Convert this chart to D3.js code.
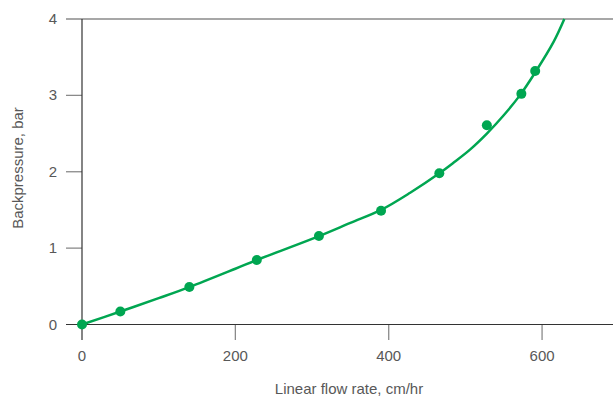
<!DOCTYPE html>
<html>
<head>
<meta charset="utf-8">
<script src="https://cdn.jsdelivr.net/npm/d3@7"></script>
<style>
  body { margin: 0; background: #fff; }
  text { font-family: "Liberation Sans", Arial, sans-serif; fill: #585858; }
</style>
</head>
<body>
<svg id="chart"></svg>
<script>
// measured points
const flowRate = [0, 50, 140, 228, 309, 390, 466, 528, 573, 591];
const backpressure = [0, 0.17, 0.49, 0.845, 1.158, 1.49, 1.98, 2.61, 3.02, 3.32];

// fitted curve
const curveX = [0, 50, 100, 140, 200, 228, 300, 350, 390, 428, 466, 484, 506, 528, 550, 571, 591, 615, 629];
const curveY = [0, 0.17, 0.345, 0.49, 0.73, 0.845, 1.12, 1.33, 1.5, 1.725, 1.98, 2.115, 2.29, 2.5, 2.74, 3.0, 3.3, 3.7, 4.0];

const xTicks = [0, 200, 400, 600];
const yTicks = [0, 1, 2, 3, 4];

(function() {
    const width = 613, height = 396;
    const green = "#00a651";

    const svg = d3.select("#chart").attr("width", width).attr("height", height);

    const x = d3.scaleLinear().domain([0, 692.5]).range([82, 613]);
    const y = d3.scaleLinear().domain([0, 4]).range([324.5, 19]);

    // --- GRID / TICKS ---
    svg.append("g").selectAll("line.ytick")
        .data(yTicks.filter(d => d > 0))
        .join("line")
        .attr("x1", 66).attr("x2", d => d === 4 ? width : x(0))
        .attr("y1", d => y(d)).attr("y2", d => y(d))
        .attr("stroke", "#8a8a8a").attr("stroke-width", 1.3);

    svg.append("g").selectAll("line.xtick")
        .data(xTicks.filter(d => d > 0))
        .join("line")
        .attr("x1", d => x(d)).attr("x2", d => x(d))
        .attr("y1", y(0)).attr("y2", 340)
        .attr("stroke", "#8a8a8a").attr("stroke-width", 1.3);

    // axes
    svg.append("line").attr("x1", 66).attr("x2", width)
        .attr("y1", y(0)).attr("y2", y(0))
        .attr("stroke", "#333").attr("stroke-width", 1.2);
    svg.append("line").attr("x1", x(0)).attr("x2", x(0))
        .attr("y1", y(4)).attr("y2", 340)
        .attr("stroke", "#333").attr("stroke-width", 1.2);

    // --- LABELS ---
    svg.append("g").selectAll("text")
        .data(yTicks)
        .join("text")
        .attr("x", 57).attr("y", d => y(d) + 5)
        .attr("text-anchor", "end").attr("font-size", "15px")
        .text(d => d);

    svg.append("g").selectAll("text")
        .data(xTicks)
        .join("text")
        .attr("x", d => x(d)).attr("y", 361)
        .attr("text-anchor", "middle").attr("font-size", "15px")
        .text(d => d);

    svg.append("text")
        .attr("x", 349).attr("y", 394)
        .attr("text-anchor", "middle").attr("font-size", "15px")
        .text("Linear flow rate, cm/hr");

    svg.append("text")
        .attr("transform", "translate(23,168) rotate(-90)")
        .attr("text-anchor", "middle").attr("font-size", "15px")
        .text("Backpressure, bar");

    // --- CURVE ---
    const line = d3.line()
        .x(d => x(d[0])).y(d => y(d[1]))
        .curve(d3.curveCatmullRom);

    svg.append("path")
        .datum(d3.zip(curveX, curveY))
        .attr("d", line)
        .attr("fill", "none")
        .attr("stroke", green)
        .attr("stroke-width", 2.5);

    // --- POINTS ---
    svg.append("g").selectAll("circle")
        .data(d3.zip(flowRate, backpressure))
        .join("circle")
        .attr("cx", d => x(d[0])).attr("cy", d => y(d[1]))
        .attr("r", 5)
        .attr("fill", green);
})();
</script>
</body>
</html>
